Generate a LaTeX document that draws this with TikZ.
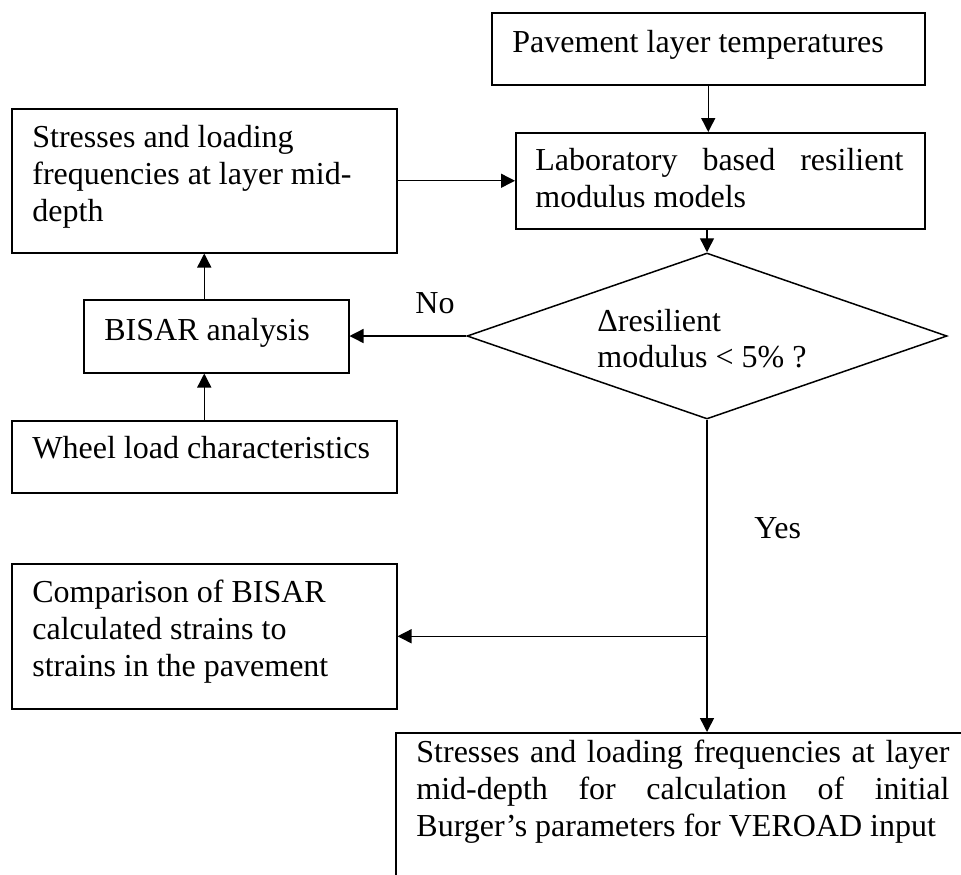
\documentclass[tikz,border=0pt]{standalone}
\usepackage{fontspec}
\setmainfont{Liberation Serif}
\usetikzlibrary{arrows.meta,shapes.geometric}

% stacked lines, baseline at the first line
\newcommand{\stack}[1]{\begin{tabular}[t]{@{}l@{}}#1\end{tabular}}
% a justified line: words spread evenly over the given width
\newcommand{\fullline}[2]{\hbox to #1{#2}}

\begin{document}
\begin{tikzpicture}[x=0.5pt,y=-0.5pt,
  box/.style={draw, line width=0.75pt, inner sep=0pt, anchor=north west},
  txt/.style={inner sep=0pt, anchor=base west,
              font=\fontsize{16pt}{18.5pt}\selectfont},
  link/.style={line width=0.7pt, -{Triangle[length=7pt,width=7pt]}},
]
\useasboundingbox (0,0) rectangle (961,874);
\clip (0,0) rectangle (961,874);

% boxes
\node[box, minimum width=216.5pt, minimum height=36pt]   (pave)   at (491,12)  {};
\node[box, minimum width=204.5pt, minimum height=48pt]   (lab)    at (515,132) {};
\node[box, minimum width=192.5pt, minimum height=72pt]   (stress) at (11,108)  {};
\node[box, minimum width=132.5pt, minimum height=36.5pt] (bisar)  at (83,299)  {};
\node[box, minimum width=192.5pt, minimum height=36pt]   (wheel)  at (11,420)  {};
\node[box, minimum width=192.5pt, minimum height=72.5pt] (comp)   at (11,563)  {};
\node[box, minimum width=287.5pt, minimum height=100pt]  (final)  at (395,732) {};
\node[draw, shape=diamond, line width=0.75pt, inner sep=0pt,
      minimum width=240pt, minimum height=83pt] (dia) at (707,336) {};

% texts
\node[txt] (tpave) at (512,52) {Pavement layer temperatures};
\node[txt] (tlab) at (535,170)
  {\stack{\fullline{184pt}{Laboratory\hfill based\hfill resilient}\\modulus models}};
\node[txt] (tstress) at (32,147)
  {\stack{Stresses and loading\\frequencies at layer mid-\\depth}};
\node[txt] (tbisar) at (104,340) {BISAR analysis};
\node[txt] (twheel) at (32,458) {Wheel load characteristics};
\node[txt] (tcomp) at (32,602)
  {\stack{Comparison of BISAR\\calculated strains to\\strains in the pavement}};
\node[txt] (tfinal) at (416,762)
  {\stack{\fullline{266.5pt}{Stresses\hfill and\hfill loading\hfill frequencies\hfill at\hfill layer}\\
          \fullline{266.5pt}{mid-depth\hfill for\hfill calculation\hfill of\hfill initial}\\
          Burger’s parameters for VEROAD input}};
\node[txt, font=\fontsize{16pt}{18pt}\selectfont] (tdia) at (597,331)
  {\stack{Δresilient\\modulus < 5\% ?}};
\node[txt] (tno) at (415,313) {No};
\node[txt] (tyes) at (754,538) {Yes};

% connectors
\coordinate (j) at (dia.south |- comp.east);
\draw[link] (pave.south) -- (pave.south |- lab.north);
\draw[link] (dia.north |- lab.south) -- (dia.north);
\draw[link] (stress.east) -- (stress.east -| lab.west);
\draw[link] (dia.west) -- (dia.west -| bisar.east);
\draw[link] (stress.south |- bisar.north) -- (stress.south);
\draw[link] (wheel.north) -- (wheel.north |- bisar.south);
\draw[line width=0.7pt] (dia.south) -- (j);
\draw[link] (j) -- (j -| comp.east);
\draw[link] (j) -- (j |- final.north);
\end{tikzpicture}
\end{document}
